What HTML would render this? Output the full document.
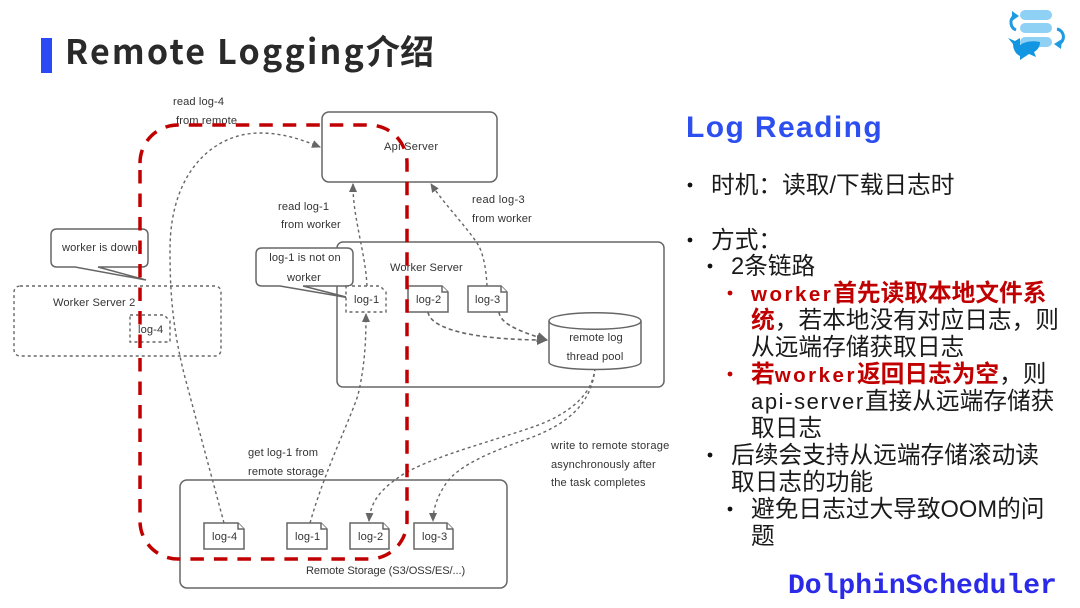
<!DOCTYPE html>
<html><head><meta charset="utf-8"><style>
html,body{margin:0;padding:0;background:#fff}
svg{display:block}
.t{font:11.1px "Liberation Sans",sans-serif;fill:#333;letter-spacing:.12px}
.b{fill:#fff;stroke:#666;stroke-width:1.5}
.d{fill:#fff;stroke:#666;stroke-width:1.4;stroke-dasharray:3 3}
.c{fill:none;stroke:#666;stroke-width:1.4;stroke-dasharray:3 3}
.l{font:23.7px "Liberation Sans","Noto Sans CJK SC",sans-serif;fill:#1a1a1a}
.r{font-weight:700;fill:#c00000}
.w{font-size:20.5px;letter-spacing:2.5px}
.a{font-size:22px;letter-spacing:1.6px}
</style></head><body>
<svg width="1080" height="608" viewBox="0 0 1080 608" xmlns="http://www.w3.org/2000/svg">
<defs>
<marker id="a" markerWidth="9" markerHeight="8" refX="8" refY="4" orient="auto" markerUnits="userSpaceOnUse"><path d="M0 0L9 4L0 8Z" fill="#666"/></marker>
<marker id="A" markerWidth="11" markerHeight="10" refX="10" refY="5" orient="auto" markerUnits="userSpaceOnUse"><path d="M0 0L11 5L0 10Z" fill="#666"/></marker>
</defs>
<rect x="41" y="38" width="11" height="35" fill="#2b4af5"/>
<text x="65" y="64" style="font:700 34px 'Noto Sans CJK SC',sans-serif;fill:#2a2a2a"><tspan style="letter-spacing:2.2px">Remote Logging</tspan><tspan style="letter-spacing:0">介绍</tspan></text>

<!-- logo -->
<rect x="1020" y="10" width="32" height="10" rx="5" fill="#8fd0f5"/>
<rect x="1020" y="23" width="32" height="10" rx="5" fill="#8fd0f5"/>
<rect x="1020" y="37" width="32" height="10" rx="5" fill="#8fd0f5"/>
<path d="M1014 16A7.5 8 0 0 0 1016 30" fill="none" stroke="#1e9be0" stroke-width="3"/>
<path d="M1012 11L1019 16L1012 21Z" fill="#1e9be0"/>
<path d="M1057 29A8 8 0 0 1 1059 44" fill="none" stroke="#1e9be0" stroke-width="3"/>
<path d="M1062 39L1054 44L1061 49Z" fill="#1e9be0"/>
<path d="M1008 38L1015 41L1020 38L1020 45C1024 42 1032 40 1040 42C1040 46 1038 50 1034 52L1036 57L1029 54L1020 60L1020 56C1015 54 1013 48 1013 44Z" fill="#1296e2"/>

<!-- boxes -->
<rect class="b" x="322" y="112" width="175" height="70" rx="7"/>
<rect class="b" x="337" y="242" width="327" height="145" rx="6"/>
<rect class="d" x="14" y="286" width="207" height="70" rx="6"/>
<rect class="b" x="180" y="480" width="327" height="108" rx="7"/>

<!-- connectors -->
<g class="c">
<path marker-end="url(#a)" d="M224 523L187 385C172 330 170 290 170 250C170 170 215 133 260 133C285 133 305 141 320 147"/>
<path marker-end="url(#a)" d="M367 286C366 265 361 245 358 228C355 212 353 200 353 184"/>
<path marker-end="url(#a)" d="M310 523C325 470 350 420 358 395C365 365 366 340 366 314"/>
<path marker-end="url(#a)" d="M487 286C486 265 482 250 477 243C465 225 445 205 431 184"/>
<path marker-end="url(#A)" d="M428 312C430 328 470 340 547 340" stroke-width="1.6" stroke-dasharray="4 3"/>
<path marker-end="url(#A)" d="M499 312C500 325 525 333 547 340" stroke-width="1.6" stroke-dasharray="4 3"/>
<path marker-end="url(#a)" d="M595 368C592 400 560 418 530 428C480 445 420 460 395 480C378 492 370 505 369 521"/>
<path marker-end="url(#a)" d="M595 368C592 405 565 425 530 438C490 452 460 465 447 482C438 495 433 508 433 521"/>
</g>

<!-- callouts -->
<path class="b" d="M57 229H142Q148 229 148 235V261Q148 267 142 267H98L146 280L75 267H57Q51 267 51 261V235Q51 229 57 229Z"/>
<path class="b" d="M262 248H347Q353 248 353 254V280Q353 286 347 286H303L350 298L280 286H262Q256 286 256 280V254Q256 248 262 248Z"/>

<!-- docs -->
<path class="d" d="M130 315H164L170 321V342H130Z"/>
<path class="d" d="M346 286H380L386 292V312H346Z"/>
<path class="b" d="M408 286H442L448 292V312H408Z"/><path class="b" d="M442 286V292H448"/>
<path class="b" d="M468 286H501L507 292V312H468Z"/><path class="b" d="M501 286V292H507"/>
<path class="b" d="M204 523H238L244 529V549H204Z"/><path class="b" d="M238 523V529H244"/>
<path class="b" d="M287 523H321L327 529V549H287Z"/><path class="b" d="M321 523V529H327"/>
<path class="b" d="M350 523H383L389 529V549H350Z"/><path class="b" d="M383 523V529H389"/>
<path class="b" d="M414 523H447L453 529V549H414Z"/><path class="b" d="M447 523V529H453"/>
<!-- cylinder -->
<path class="b" d="M549 321C549 310 641 310 641 321V362C641 372 549 372 549 362Z"/>
<path class="b" style="fill:none" d="M549 321C549 332 641 332 641 321"/>

<!-- diagram labels -->
<g class="t">
<text x="173" y="105">read log-4</text><text x="176" y="124">from remote</text>
<text x="278" y="210">read log-1</text><text x="281" y="228">from worker</text>
<text x="472" y="203" style="letter-spacing:.3px">read log-3</text><text x="472" y="222">from worker</text>
<text x="384" y="150" style="letter-spacing:.25px">Api Server</text>
<text x="390" y="271">Worker Server</text>
<text x="62" y="251">worker is down</text>
<text x="305" y="261" text-anchor="middle">log-1 is not on</text><text x="304" y="281" text-anchor="middle">worker</text>
<text x="53" y="306">Worker Server 2</text>
<text x="138" y="333">log-4</text>
<text x="354" y="303">log-1</text><text x="416" y="303">log-2</text><text x="475" y="303">log-3</text>
<text x="596" y="341" text-anchor="middle">remote log</text><text x="595" y="360" text-anchor="middle">thread pool</text>
<text x="248" y="456">get log-1 from</text><text x="248" y="475">remote storage</text>
<text x="551" y="449" style="letter-spacing:.22px">write to remote storage</text><text x="551" y="468">asynchronously after</text><text x="551" y="486">the task completes</text>
<text x="306" y="574" style="letter-spacing:-.08px">Remote Storage (S3/OSS/ES/...)</text>
<text x="212" y="540">log-4</text><text x="295" y="540">log-1</text><text x="358" y="540">log-2</text><text x="422" y="540">log-3</text>
</g>

<!-- red dashed rect -->
<path d="M140 170V521A38 38 0 0 0 178 559H369A38 38 0 0 0 407 521V163A38 38 0 0 0 369 125H178A38 38 0 0 0 140 163V170" fill="none" stroke="#c00000" stroke-width="3.5" stroke-dasharray="13.5 10"/>

<!-- right panel -->
<text x="686" y="137" style="font:700 30px 'Liberation Sans',sans-serif;fill:#2d4ff0;letter-spacing:1.4px">Log Reading</text>
<g fill="#111"><circle cx="690" cy="185" r="2.4"/><circle cx="690" cy="240" r="2.4"/><circle cx="710" cy="266" r="2.4"/><circle cx="710" cy="455" r="2.4"/><circle cx="730" cy="509" r="2.4"/></g>
<g fill="#c00000"><circle cx="730" cy="293" r="2.4"/><circle cx="730" cy="374" r="2.4"/></g>
<g class="l">
<text x="711" y="193">时机：读取/下载日志时</text>
<text x="711" y="248">方式：</text>
<text x="731" y="274">2条链路</text>
<text x="751" y="301" class="r"><tspan class="w">worker</tspan>首先读取本地文件系</text>
<text x="751" y="328"><tspan class="r">统</tspan>，若本地没有对应日志，则</text>
<text x="751" y="355">从远端存储获取日志</text>
<text x="751" y="382"><tspan class="r">若<tspan class="w">worker</tspan>返回日志为空</tspan>，则</text>
<text x="751" y="409"><tspan class="a">api-server</tspan>直接从远端存储获</text>
<text x="751" y="436">取日志</text>
<text x="731" y="463">后续会支持从远端存储滚动读</text>
<text x="731" y="490">取日志的功能</text>
<text x="751" y="517">避免日志过大导致OOM的问</text>
<text x="751" y="544">题</text>
</g>
<text x="788" y="593" style="font:700 28px 'Liberation Mono',monospace;fill:#2a2ae8">DolphinScheduler</text>
</svg>
</body></html>
